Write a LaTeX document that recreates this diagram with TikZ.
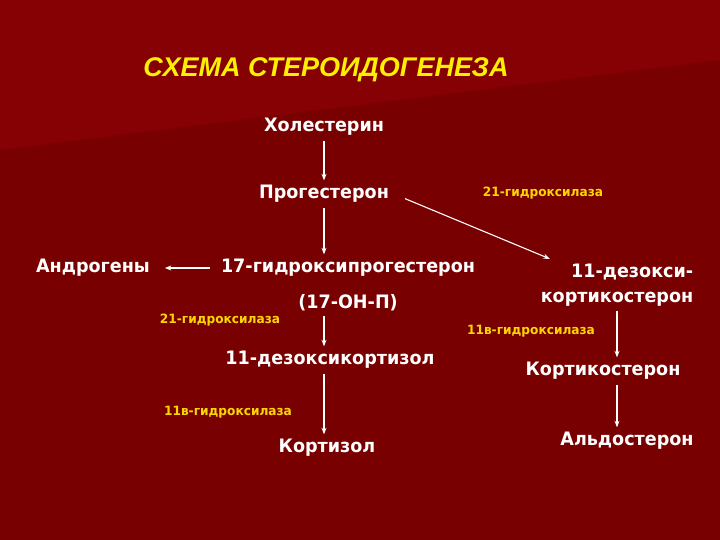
\documentclass[tikz,border=0pt]{standalone}
\usepackage{fontspec}
\setmainfont{DejaVu Sans}[FakeStretch=0.95]
\newfontfamily\titlefont{Liberation Sans}
\usetikzlibrary{arrows.meta}
\definecolor{slidered}{RGB}{120,0,0}
\definecolor{slidelight}{RGB}{134,1,3}
\definecolor{enzymeyellow}{RGB}{255,215,0}
\definecolor{titleyellow}{RGB}{255,240,0}
\tikzset{substance style/.style={
		text=white,
		font=\fontsize{18.5}{25}\selectfont\bfseries,
		inner sep=2pt,
		outer sep=3pt,
		align=center,
	},
	enzyme style/.style={
		text=enzymeyellow,
		font=\fontsize{12.8}{14}\selectfont\bfseries,
		inner sep=1pt,
	},
	title style/.style={
		text=titleyellow,
		font=\titlefont\fontsize{27}{30}\selectfont\bfseries\itshape,
	},
	edge style/.style={
		draw=white,
		line width=1.1pt,
		-{Stealth[length=6.5pt,width=5pt]},
	}
}

\begin{document}
\begin{tikzpicture}[x=1pt,y=-1pt]
	% background
	\fill[slidered] (0,0) rectangle (720,540);
	\fill[slidelight] (0,0) -- (720,0) -- (720,60) -- (0,150) -- cycle;
	\useasboundingbox (0,0) rectangle (720,540);
	
	\node[title style] (Title) at (326,70) {СХЕМА СТЕРОИДОГЕНЕЗА};
	
	\node[substance style] (Cholesterol) at (324,127) {Холестерин};
	\node[substance style] (Progesterone) at (324,194) {Прогестерон};
	\node[substance style] (Hydroxyprog) at (348,268) {17-гидроксипрогестерон};
	\node[substance style] (HydroxyprogShort) at (348,303) {(17-ОН-П)};
	\node[substance style] (Androgens) at (93,268) {Андрогены};
	\node[substance style] (Deoxycortisol) at (330,360) {11-дезоксикортизол};
	\node[substance style] (Cortisol) at (327,448) {Кортизол};
	\node[substance style, align=right] (Deoxycorticosterone) at (617,285) {11-дезокси-\\кортикостерон};
	\node[substance style] (Corticosterone) at (603,371) {Кортикостерон};
	\node[substance style] (Aldosterone) at (627,441) {Альдостерон};
	
	\node[enzyme style] (HydroxylaseA) at (543,193) {21-гидроксилаза};
	\node[enzyme style] (HydroxylaseB) at (220,320) {21-гидроксилаза};
	\node[enzyme style] (HydroxylaseC) at (531,331) {11в-гидроксилаза};
	\node[enzyme style] (HydroxylaseD) at (228,412) {11в-гидроксилаза};
	
	% left branch
	\draw[edge style] (Cholesterol) -- (Progesterone);
	\draw[edge style] (Progesterone.south) -- (Progesterone.south |- Hydroxyprog.north);
	\draw[edge style, shorten <=6pt, shorten >=10pt] (Hydroxyprog.west) -- (Androgens.east);
	\draw[edge style] (Progesterone.south |- HydroxyprogShort.south) -- (Progesterone.south |- Deoxycortisol.north);
	\draw[edge style] (Progesterone.south |- Deoxycortisol.south) -- (Progesterone.south |- Cortisol.north);
	
	% right branch
	\draw[edge style, shorten <=12pt] (Progesterone.east) -- ([xshift=14pt]Deoxycorticosterone.north west);
	\draw[edge style] (Deoxycorticosterone.south) -- (Deoxycorticosterone.south |- Corticosterone.north);
	\draw[edge style] (Deoxycorticosterone.south |- Corticosterone.south) -- (Deoxycorticosterone.south |- Aldosterone.north);
\end{tikzpicture}
\end{document}
